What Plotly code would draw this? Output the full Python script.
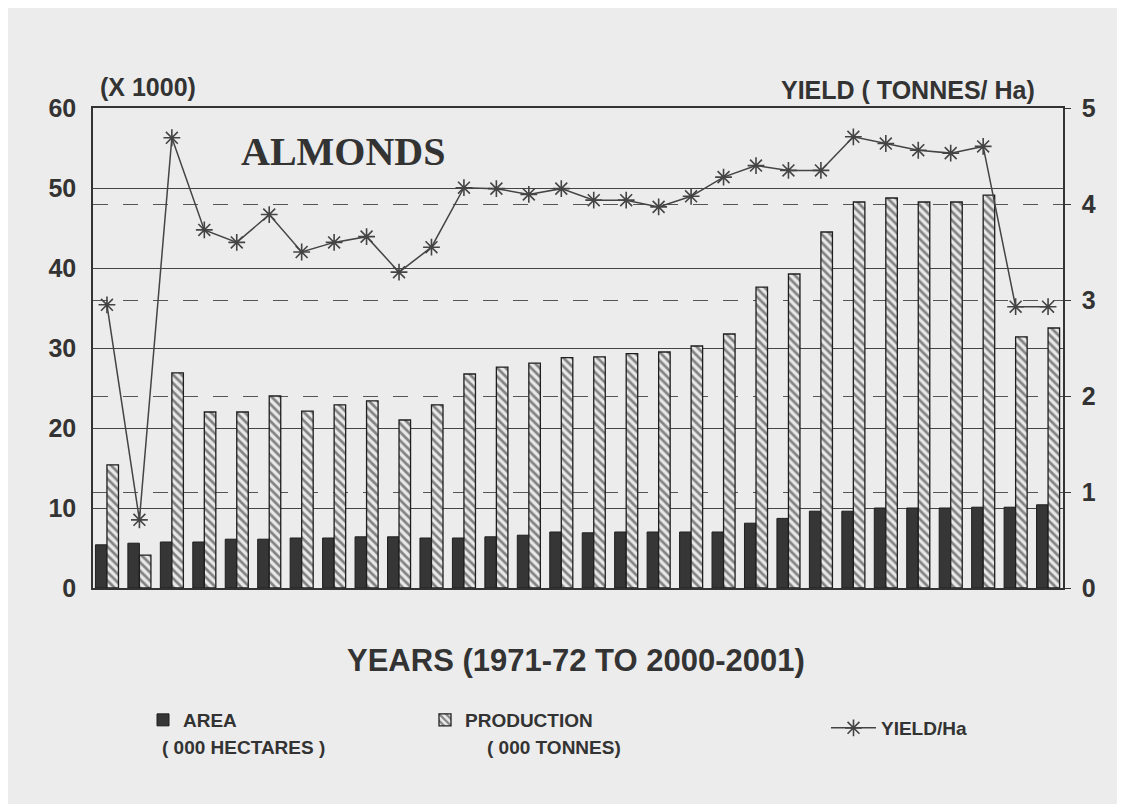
import plotly.graph_objects as go

# 1971-72 ... 2000-01
years = [f"{y}-{str(y + 1)[-2:]}" for y in range(1971, 2001)]

area = [5.4, 5.6, 5.75, 5.75, 6.1, 6.1, 6.25, 6.25, 6.4, 6.4,
        6.25, 6.25, 6.4, 6.6, 7.0, 6.9, 7.0, 7.0, 7.0, 7.0,
        8.1, 8.7, 9.6, 9.6, 10.0, 10.0, 10.0, 10.1, 10.1, 10.4]

production = [15.4, 4.1, 26.9, 22.0, 22.0, 24.0, 22.1, 22.9, 23.4, 21.0,
              22.9, 26.75, 27.6, 28.1, 28.8, 28.9, 29.3, 29.5, 30.25, 31.75,
              37.6, 39.25, 44.5, 48.25, 48.75, 48.25, 48.25, 49.1, 31.4, 32.5]

yield_ha = [2.95, 0.71, 4.69, 3.73, 3.6, 3.89, 3.5, 3.6, 3.66, 3.29,
            3.55, 4.17, 4.16, 4.1, 4.16, 4.04, 4.04, 3.97, 4.08, 4.28,
            4.4, 4.35, 4.35, 4.7, 4.63, 4.56, 4.53, 4.6, 2.93, 2.93]

BG = "#ececec"
INK = "#333333"
FONT = "Liberation Sans"

# page has an 8px body margin, so the figure is a bit smaller than the window
W, H = 1117, 796
OFF = 8

fig = go.Figure()

fig.add_trace(go.Bar(
    x=years, y=area, name="AREA", legend="legend",
    marker=dict(color="#363636", line=dict(color="#1e1e1e", width=1)),
))

fig.add_trace(go.Bar(
    x=years, y=production, name="PRODUCTION", legend="legend2",
    marker=dict(color=BG, line=dict(color="#1e1e1e", width=1.3),
                pattern=dict(shape="\\", fgcolor="#1e1e1e", bgcolor="#e8e8e8",
                             size=6, solidity=0.45)),
))

fig.add_trace(go.Scatter(
    x=years, y=yield_ha, name="YIELD/Ha", yaxis="y2", legend="legend3",
    mode="lines+markers",
    line=dict(color="#444444", width=1.5),
    marker=dict(symbol="asterisk-open", size=14, line=dict(color="#2e2e2e", width=1.6)),
))

legend_font = dict(size=19, family=FONT, color=INK, weight="bold")


def cx(px):
    return (px - OFF) / W


def cy(py):
    return 1 - (py - OFF) / H


fig.update_layout(
    width=W, height=H,
    margin=dict(l=93 - OFF, r=W - (1063 - OFF), t=108 - OFF, b=H - (588 - OFF), autoexpand=False),
    paper_bgcolor=BG, plot_bgcolor=BG,
    font=dict(family=FONT, color=INK, size=22, weight="bold"),
    barmode="group", bargap=0.29, bargroupgap=0,
    xaxis=dict(type="category", range=[-0.43, 29.46], showticklabels=False, ticks="",
               showgrid=False, showline=True, linecolor="#333333", linewidth=1.5, mirror=True),
    yaxis=dict(range=[0, 60], tickvals=[0, 10, 20, 30, 40, 50, 60],
               showgrid=True, gridcolor="#444444", gridwidth=1.2,
               zeroline=False, showline=True, linecolor="#333333", linewidth=1.5,
               ticks="", ticklabelstandoff=10,
               tickfont=dict(size=25, family=FONT, color=INK, weight="bold")),
    yaxis2=dict(range=[0, 5], tickvals=[0, 1, 2, 3, 4, 5], overlaying="y", side="right",
                showgrid=True, gridcolor="#555555", gridwidth=1.1, griddash="longdash",
                zeroline=False, showline=True, linecolor="#333333", linewidth=1.5,
                ticks="outside", ticklen=6, tickcolor="#333333", ticklabelstandoff=6,
                tickfont=dict(size=25, family=FONT, color=INK, weight="bold")),
    legend=dict(xref="container", yref="container", x=cx(143), y=cy(720),
                xanchor="left", yanchor="middle", bgcolor="rgba(0,0,0,0)", font=legend_font),
    legend2=dict(xref="container", yref="container", x=cx(425), y=cy(720),
                 xanchor="left", yanchor="middle", bgcolor="rgba(0,0,0,0)", font=legend_font),
    legend3=dict(xref="container", yref="container", x=cx(826), y=cy(728),
                 xanchor="left", yanchor="middle", bgcolor="rgba(0,0,0,0)", itemwidth=45,
                 font=legend_font),
    showlegend=True,
)


def note(text, px, py, size, family=FONT, anchor="center"):
    fig.add_annotation(text=text, xref="paper", yref="paper",
                       x=(px - 93) / 970, y=(588 - py) / 480,
                       xanchor=anchor, yanchor="middle", showarrow=False,
                       font=dict(size=size, family=family, color=INK, weight="bold"))


note("(X 1000)", 148, 87, 25)
note("YIELD ( TONNES/ Ha)", 908, 90, 25)
note("ALMONDS", 343, 151, 40, family="Liberation Serif")
note("YEARS (1971-72 TO 2000-2001)", 576, 660, 31)
note("( 000 HECTARES )", 160, 747, 19, anchor="left")
note("( 000 TONNES)", 485, 747, 19, anchor="left")

fig.write_html("out.html")
